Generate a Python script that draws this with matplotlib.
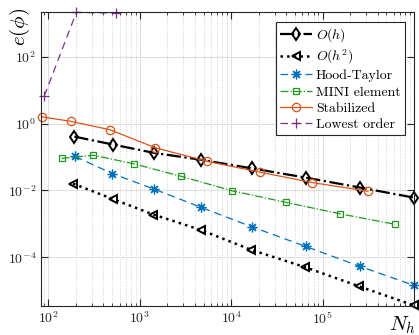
import numpy as np
import matplotlib
matplotlib.use('Agg')
import matplotlib.pyplot as plt
from matplotlib.ticker import LogLocator, NullFormatter

plt.rcParams['mathtext.fontset'] = 'cm'
plt.rcParams['font.family'] = ['cmr10', 'DejaVu Serif']
plt.rcParams['axes.formatter.use_mathtext'] = True

# data
n_oh = [192, 509, 1416, 4670, 16800, 65500, 257000, 1.0e6]
e_oh = [0.41, 0.237, 0.134, 0.083, 0.046, 0.0242, 0.0122, 0.0061]

n_oh2 = [186, 509, 1406, 4620, 16600, 64000, 250000, 1.0e6]
e_oh2 = [0.016, 0.0055, 0.0019, 6.6e-4, 1.66e-4, 5.07e-5, 1.35e-5, 3.6e-6]

n_hood = [196, 500, 1430, 4700, 16700, 65500, 257000, 1.0e6]
e_hood = [0.104, 0.032, 0.011, 0.0031, 8.2e-4, 2.1e-4, 5.3e-5, 1.44e-5]

n_mini = [139, 308, 855, 2840, 10300, 39800, 155000, 620000]
e_mini = [0.091, 0.114, 0.063, 0.0265, 0.0097, 0.0044, 0.0020, 9.7e-4]

n_stab = [85, 177, 470, 1476, 5420, 20400, 77400, 314000]
e_stab = [1.6, 1.17, 0.66, 0.19, 0.075, 0.0355, 0.0172, 0.0095]

n_low = [90, 202, 553]
e_low = [6.8, 2150, 2050]

fig = plt.figure(figsize=(4.19, 3.35), dpi=100)
ax = fig.add_axes([0.098, 0.087, 0.890, 0.877])

ax.loglog(n_oh, e_oh, '-.', color='k', lw=1.6, marker='d', ms=6, mfc='none', mew=1.4, label=r'$O(h)$', clip_on=False)
ax.loglog(n_oh2, e_oh2, ':', color='k', lw=1.8, marker='<', ms=6, mfc='none', mew=1.4, label=r'$O(h^2)$', clip_on=False)
ax.loglog(n_hood, e_hood, '--', color='#0072BD', lw=0.9, marker=(8, 2, 0), ms=7, mew=0.9, label='Hood-Taylor', dashes=(6, 4), clip_on=False)
ax.loglog(n_mini, e_mini, '-.', color='#1f9a1f', lw=0.9, marker='s', ms=5, mfc='none', mew=0.9, label='MINI element')
ax.loglog(n_stab, e_stab, '-', color='#D95319', lw=0.9, marker='o', ms=6, mfc='none', mew=0.9, label='Stabilized', clip_on=False)
ax.loglog(n_low, e_low, '--', color='#7E2F8E', lw=0.9, marker='+', ms=7, mew=0.9, label='Lowest order', dashes=(6, 4), clip_on=False)

ax.set_xlim(83, 1.0e6)
ax.set_ylim(3.5e-6, 2.2e3)

ax.set_xticks([1e2, 1e3, 1e4, 1e5])
ax.xaxis.set_minor_locator(LogLocator(base=10, subs=np.arange(2, 10), numticks=20))
ax.xaxis.set_minor_formatter(NullFormatter())
ax.set_yticks([1e-4, 1e-2, 1e0, 1e2])
ax.yaxis.set_minor_locator(plt.NullLocator())

ax.grid(True, which='major', color='#e0e0e0', lw=0.8, ls='-')
ax.grid(True, which='minor', axis='x', color='#c8c8c8', lw=0.6, ls=':')
ax.set_axisbelow(True)

ax.tick_params(which='both', direction='in', top=True, right=True, labelsize=10, colors='#262626')
ax.tick_params(which='major', length=5)
ax.tick_params(which='minor', length=2.5)
for s in ax.spines.values():
    s.set_color('#262626')
    s.set_linewidth(0.8)

ax.set_ylabel(r'$e(\phi)$', fontsize=15)
ax.yaxis.set_label_coords(-0.025, 0.95)
ax.set_xlabel(r'$N_h$', fontsize=15)
ax.xaxis.set_label_coords(0.97, -0.03)
ax.xaxis.label.set_va('top')

leg = ax.legend(loc='upper right', bbox_to_anchor=(0.975, 0.965), borderaxespad=0, fontsize=10,
                fancybox=False, framealpha=1, edgecolor='#262626', handlelength=2.3,
                labelspacing=0.25, borderpad=0.3, handletextpad=0.3)
leg.get_frame().set_linewidth(0.8)

fig.savefig('out.png', dpi=100)
